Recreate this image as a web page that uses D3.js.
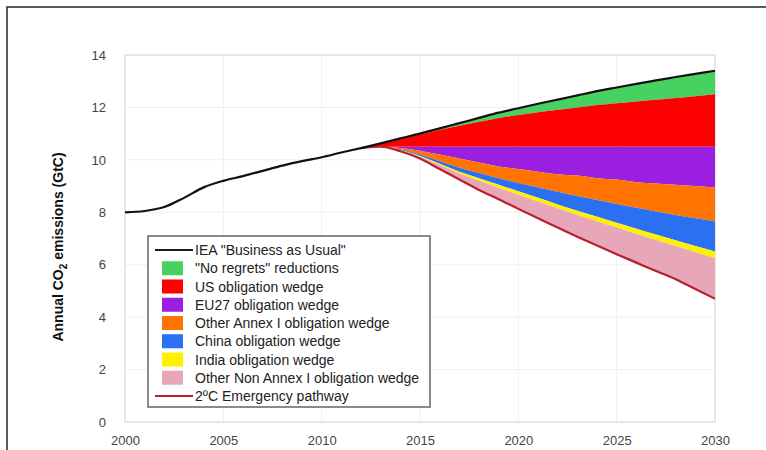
<!DOCTYPE html>
<html>
<head>
<meta charset="utf-8">
<script src="https://cdn.jsdelivr.net/npm/d3@7"></script>
<style>
  body { margin: 0; background: #fff; }
  svg { display: block; font-family: "Liberation Sans", Arial, sans-serif; }
</style>
</head>
<body>
<svg width="766" height="450"></svg>
<script>
// Business as usual, yearly 2000-2030
var bauYears = d3.range(2000, 2031);
var bau = [8.0, 8.05, 8.2, 8.55, 8.95, 9.2, 9.38, 9.58, 9.78, 9.95, 10.1, 10.28, 10.45, 10.63, 10.82,
           11.0, 11.2, 11.4, 11.6, 11.8, 11.97, 12.14, 12.3, 12.46, 12.62, 12.76, 12.9, 13.03, 13.16, 13.28, 13.4];

// wedge lower edges, yearly 2012-2030
var wedgeYears = d3.range(2012, 2031);
var greenLow  = [10.45, 10.63, 10.81, 10.97, 11.14, 11.3, 11.45, 11.6, 11.71, 11.82, 11.91, 12.0, 12.09, 12.16, 12.23, 12.29, 12.36, 12.43, 12.5];
var redLow    = [10.45, 10.5, 10.5, 10.5, 10.5, 10.5, 10.5, 10.5, 10.5, 10.5, 10.5, 10.5, 10.5, 10.5, 10.5, 10.5, 10.5, 10.5, 10.5];
var purpleLow = [10.45, 10.5, 10.45, 10.35, 10.2, 10.05, 9.9, 9.75, 9.65, 9.55, 9.45, 9.4, 9.3, 9.25, 9.15, 9.1, 9.05, 9.0, 8.95];
var orangeLow = [10.45, 10.5, 10.4, 10.2, 9.95, 9.7, 9.5, 9.3, 9.12, 8.95, 8.78, 8.62, 8.47, 8.32, 8.17, 8.03, 7.9, 7.77, 7.65];
var blueLow   = [10.45, 10.5, 10.38, 10.15, 9.85, 9.55, 9.3, 9.05, 8.8, 8.55, 8.3, 8.06, 7.83, 7.6, 7.37, 7.15, 6.93, 6.71, 6.5];
var yellowLow = [10.45, 10.5, 10.37, 10.12, 9.8, 9.48, 9.2, 8.93, 8.67, 8.41, 8.15, 7.9, 7.66, 7.42, 7.18, 6.94, 6.71, 6.48, 6.25];
var emergency = [10.45, 10.5, 10.33, 10.05, 9.65, 9.25, 8.85, 8.5, 8.13, 7.77, 7.42, 7.07, 6.73, 6.4, 6.08, 5.76, 5.45, 5.07, 4.7];

var wedgeNames = ["\"No regrets\" reductions", "US obligation wedge", "EU27 obligation wedge",
                  "Other Annex I obligation wedge", "China obligation wedge", "India obligation wedge",
                  "Other Non Annex I obligation wedge"];
var wedgeColors = ["#46d160", "#ff0000", "#9a1fe0", "#ff7400", "#2b6ff2", "#fff000", "#e8a7b8"];

var xTicks = [2000, 2005, 2010, 2015, 2020, 2025, 2030];
var yTicks = [0, 2, 4, 6, 8, 10, 12, 14];

var svg = d3.select("svg");

// outer frame
svg.append("rect").attr("x", 7).attr("y", 7).attr("width", 800).attr("height", 500)
  .attr("fill", "none").attr("stroke", "#333").attr("stroke-width", 1.6);

var xScale = d3.scaleLinear().domain([2000, 2030]).range([125, 715]);
var yScale = d3.scaleLinear().domain([0, 14]).range([422, 55]);

// grid
svg.append("g").selectAll("line").data(yTicks).enter().append("line")
  .attr("x1", 125).attr("x2", 715)
  .attr("y1", function(d){return yScale(d);}).attr("y2", function(d){return yScale(d);})
  .attr("stroke", "#efefef");
svg.append("g").selectAll("line").data(xTicks).enter().append("line")
  .attr("y1", 55).attr("y2", 422)
  .attr("x1", function(d){return xScale(d);}).attr("x2", function(d){return xScale(d);})
  .attr("stroke", "#efefef");
svg.append("rect").attr("x", 125).attr("y", 55).attr("width", 590).attr("height", 367)
  .attr("fill", "none").attr("stroke", "#dcdcdc").attr("stroke-width", 1.2);

// axes (labels only)
var xAxis = svg.append("g").attr("transform", "translate(0,422)")
  .call(d3.axisBottom(xScale).tickValues(xTicks).tickFormat(d3.format("d")).tickSize(0).tickPadding(14));
var yAxis = svg.append("g").attr("transform", "translate(125,0)")
  .call(d3.axisLeft(yScale).tickValues(yTicks).tickSize(0).tickPadding(19));
[xAxis, yAxis].forEach(function(a){
  a.select(".domain").remove();
  a.selectAll("text").attr("font-size", 13).attr("fill", "#444")
    .attr("font-family", "'Liberation Sans', Arial, sans-serif");
});

// wedges
var bounds = [bau.slice(12), greenLow, redLow, purpleLow, orangeLow, blueLow, yellowLow, emergency];
var area = d3.area()
  .x(function(d){return xScale(d.year);})
  .y0(function(d){return yScale(d.low);})
  .y1(function(d){return yScale(d.high);})
  .curve(d3.curveMonotoneX);

wedgeColors.forEach(function(c, i){
  var pts = wedgeYears.map(function(yr, j){ return {year: yr, high: bounds[i][j], low: bounds[i + 1][j]}; });
  svg.append("path").datum(pts).attr("d", area).attr("fill", c);
});

var line = d3.line()
  .x(function(d){return xScale(d[0]);})
  .y(function(d){return yScale(d[1]);})
  .curve(d3.curveMonotoneX);

svg.append("path").datum(wedgeYears.map(function(yr, j){return [yr, emergency[j]];}))
  .attr("d", line).attr("fill", "none").attr("stroke", "#b8202e").attr("stroke-width", 2.2);
svg.append("path").datum(bauYears.map(function(yr, j){return [yr, bau[j]];}))
  .attr("d", line).attr("fill", "none").attr("stroke", "#111").attr("stroke-width", 2.2);

// y title
svg.append("text").attr("transform", "translate(63,247) rotate(-90)")
  .attr("text-anchor", "middle").attr("font-size", 14).attr("font-weight", "bold").attr("fill", "#111")
  .call(function(t){
    t.append("tspan").text("Annual CO");
    t.append("tspan").attr("font-size", 10).attr("dy", 4).text("2");
    t.append("tspan").attr("dy", -4).text(" emissions (GtC)");
  });

// legend
var lg = svg.append("g");
lg.append("rect").attr("x", 148).attr("y", 236).attr("width", 282).attr("height", 171)
  .attr("fill", "#fff").attr("stroke", "#8a8a8a").attr("stroke-width", 2);
var rowY = function(i){ return 250 + i * 18.25; };
var entries = [{name: "IEA \"Business as Usual\"", type: "line", color: "#1a1a2e"}]
  .concat(wedgeNames.map(function(n, i){ return {name: n, type: "rect", color: wedgeColors[i]}; }))
  .concat([{name: "2\u00baC Emergency pathway", type: "line", color: "#b8202e"}]);
entries.forEach(function(e, i){
  var y = rowY(i);
  if (e.type === "line") {
    lg.append("line").attr("x1", 155).attr("x2", 193).attr("y1", y).attr("y2", y)
      .attr("stroke", e.color).attr("stroke-width", 2.2);
  } else {
    lg.append("rect").attr("x", 162).attr("y", y - 7).attr("width", 21).attr("height", 14).attr("fill", e.color);
  }
  lg.append("text").attr("x", 195).attr("y", y + 5).attr("font-size", 14).attr("fill", "#222").text(e.name);
});
</script>
</body>
</html>
